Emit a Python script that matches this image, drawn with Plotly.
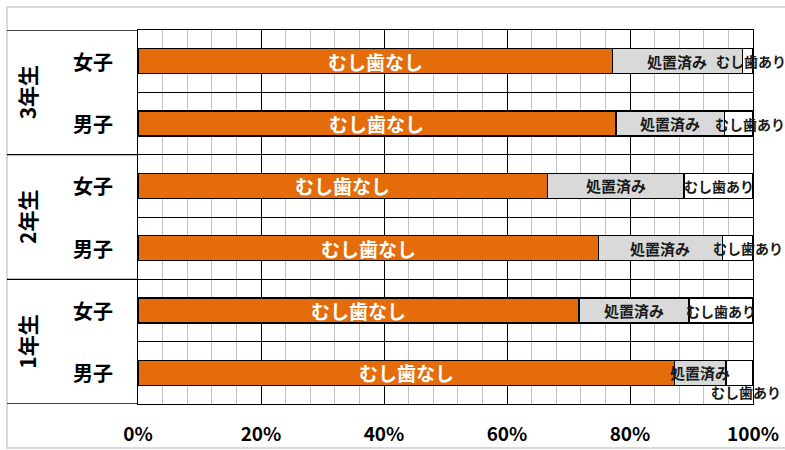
import plotly.graph_objects as go

# ---- data (top to bottom) ----
grades = ["3年生", "2年生", "1年生"]
genders = ["女子", "男子"]
row_grade = ["3年生", "3年生", "2年生", "2年生", "1年生", "1年生"]
row_gender = ["女子", "男子", "女子", "男子", "女子", "男子"]
nashi = [77.1, 77.7, 66.6, 74.9, 71.7, 87.2]      # むし歯なし
shochi = [21.2, 17.7, 22.2, 20.1, 17.9, 8.4]      # 処置済み
ari = [1.7, 4.6, 11.2, 5.0, 10.4, 4.4]            # むし歯あり
series_names = ["むし歯なし", "処置済み", "むし歯あり"]
x_ticks = [0, 20, 40, 60, 80, 100]

# ---- styling ----
W, H = 785, 450
L, R, T, B = 138, 32, 30, 46
FONT = "Noto Sans CJK JP"
ORANGE = "#E46C0A"
GRAY = "#D9D9D9"
TXT = "#1A1A1A"

idx = list(range(len(row_gender)))

fig = go.Figure()
for vals, name, col in zip([nashi, shochi, ari], series_names, [ORANGE, GRAY, "#FFFFFF"]):
    fig.add_trace(go.Bar(
        y=idx, x=vals, name=name, orientation="h", width=0.4,
        marker=dict(color=col, line=dict(color="#000000", width=1.3)),
        hoverinfo="skip",
    ))

annotations = []
# label shifts (px) for labels that do not fit the segment
ari_xshift = [3, 11, 0, 10, 0, 7]
ari_yshift = [0, 0, 0, 0, 0, -19]
for i in idx:
    annotations.append(dict(x=nashi[i] / 2, y=i, text=series_names[0], showarrow=False,
                            font=dict(family=FONT, size=19, color="white", weight="bold")))
    annotations.append(dict(x=nashi[i] + shochi[i] / 2, y=i, text=series_names[1], showarrow=False,
                            font=dict(family=FONT, size=15, color=TXT, weight="bold")))
    annotations.append(dict(x=nashi[i] + shochi[i] + ari[i] / 2, y=i, text=series_names[2],
                            showarrow=False, xshift=ari_xshift[i], yshift=ari_yshift[i],
                            font=dict(family=FONT, size=14, color=TXT, weight="bold")))

plot_w = W - L - R
plot_h = H - T - B
# gender labels
gx = -(L - 93) / plot_w
for i in idx:
    annotations.append(dict(x=gx, xref="paper", xanchor="center", y=i, yref="y",
                            text=row_gender[i], showarrow=False,
                            font=dict(family=FONT, size=20, color="#000000", weight="bold")))
# grade labels (rotated)
grx = -(L - 27) / plot_w
for g_i, g in enumerate(grades):
    rows = [i for i in idx if row_grade[i] == g]
    annotations.append(dict(x=grx, xref="paper", xanchor="center", y=sum(rows) / len(rows),
                            yref="y", text=g, textangle=-90, showarrow=False,
                            font=dict(family=FONT, size=21, color="#000000", weight="bold")))

shapes = []
left_x = -(L - 7) / plot_w
# group separator lines in the label area
bounds = [-0.5] + [max(i for i in idx if row_grade[i] == g) + 0.5 for g in grades]
for b in bounds:
    shapes.append(dict(type="line", xref="paper", x0=left_x, x1=0, yref="y", y0=b, y1=b,
                       line=dict(color="#000000", width=1.3)))
# outer frame
shapes.append(dict(type="rect", xref="paper", yref="paper",
                   x0=left_x, x1=(W + 5 - L) / plot_w,
                   y0=-(448 - (H - B)) / plot_h, y1=(H - B - 7) / plot_h,
                   line=dict(color="#D9D9D9", width=2), layer="below"))

fig.update_layout(
    width=W, height=H, margin=dict(l=L, r=R, t=T, b=B, autoexpand=False),
    barmode="stack", showlegend=False, bargap=0.6,
    plot_bgcolor="white", paper_bgcolor="white",
    annotations=annotations, shapes=shapes,
    font=dict(family=FONT),
)
fig.update_xaxes(
    range=[0, 100], tickvals=x_ticks, ticktext=[f"{v}%" for v in x_ticks],
    showgrid=True, gridcolor="#000000", gridwidth=1.3,
    minor=dict(dtick=4, tick0=0, showgrid=True, gridcolor="#C0C0C0", gridwidth=1),
    showline=True, linecolor="#000000", linewidth=1.3, mirror=True,
    zeroline=False, ticks="", ticklabelstandoff=13, automargin=False,
    tickfont=dict(family=FONT, size=19, color="#000000", weight=600),
)
fig.update_yaxes(
    range=[5.5, -0.5], tick0=0.5, dtick=1, showticklabels=False, ticks="",
    showgrid=True, gridcolor="#000000", gridwidth=1.3, automargin=False,
    showline=True, linecolor="#000000", linewidth=1.3, mirror=True, zeroline=False,
)

fig.write_html("out.html")
